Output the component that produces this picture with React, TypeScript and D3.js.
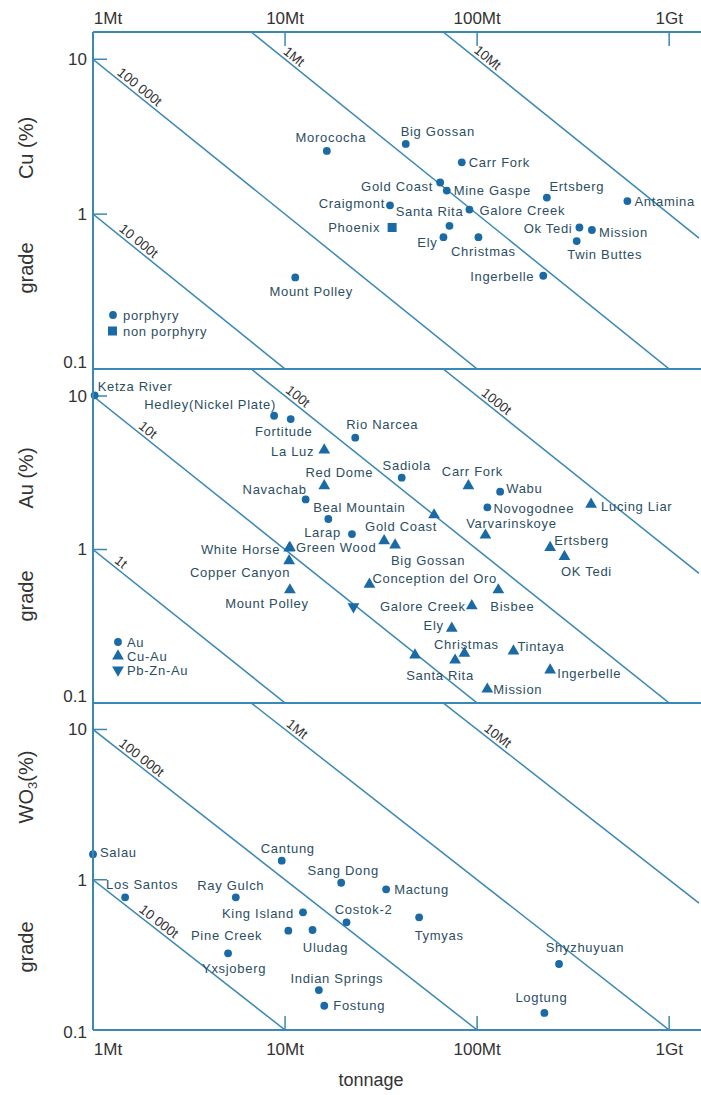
import React, { useRef, useEffect } from 'react';
import * as d3 from 'd3';

const WIDTH = 701;
const HEIGHT = 1095;

// axis ticks
const xTickValues = [1, 10, 100, 1000];
const xTickLabels = ['1Mt', '10Mt', '100Mt', '1Gt'];
const yTickValues = [0.1, 1, 10];
const yTickLabels = ['0.1', '1', '10'];

// [name, tonnage (Mt), grade, type]
const cuDeposits = [
  ['Morococha', 16.5, 2.56, 'porphyry'],
  ['Big Gossan', 42.5, 2.84, 'porphyry'],
  ['Carr Fork', 83.2, 2.16, 'porphyry'],
  ['Gold Coast', 64.2, 1.6, 'porphyry'],
  ['Mine Gaspe', 69.5, 1.42, 'porphyry'],
  ['Craigmont', 35.2, 1.14, 'porphyry'],
  ['Galore Creek', 91.2, 1.07, 'porphyry'],
  ['Santa Rita', 71.8, 0.84, 'porphyry'],
  ['Ely', 66.8, 0.71, 'porphyry'],
  ['Christmas', 101.6, 0.71, 'porphyry'],
  ['Phoenix', 36.1, 0.82, 'non porphyry'],
  ['Ertsberg', 230.7, 1.28, 'porphyry'],
  ['Antamina', 606, 1.215, 'porphyry'],
  ['Ok Tedi', 341, 0.82, 'porphyry'],
  ['Mission', 396, 0.79, 'porphyry'],
  ['Twin Buttes', 330, 0.67, 'porphyry'],
  ['Ingerbelle', 221, 0.4, 'porphyry'],
  ['Mount Polley', 11.3, 0.39, 'porphyry'],
];

const auDeposits = [
  ['Ketza River', 1.02, 10.1, 'Au'],
  ['Hedley(Nickel Plate)', 8.77, 7.44, 'Au'],
  ['Fortitude', 10.7, 7.08, 'Au'],
  ['Rio Narcea', 23.2, 5.35, 'Au'],
  ['La Luz', 16.0, 4.45, 'Cu-Au'],
  ['Red Dome', 16.0, 2.6, 'Cu-Au'],
  ['Navachab', 12.8, 2.12, 'Au'],
  ['Beal Mountain', 16.8, 1.58, 'Au'],
  ['Larap', 22.3, 1.26, 'Au'],
  ['Gold Coast', 32.8, 1.14, 'Cu-Au'],
  ['Big Gossan', 37.4, 1.07, 'Cu-Au'],
  ['White Horse', 10.5, 1.02, 'Cu-Au'],
  ['Green Wood', 10.6, 1.03, 'Cu-Au'],
  ['Copper Canyon', 10.5, 0.845, 'Cu-Au'],
  ['Mount Polley', 10.6, 0.545, 'Cu-Au'],
  ['Sadiola', 40.5, 2.94, 'Au'],
  ['Carr Fork', 90.1, 2.6, 'Cu-Au'],
  ['Wabu', 131.8, 2.38, 'Au'],
  ['Novogodnee', 113.1, 1.88, 'Au'],
  ['Varvarinskoye', 110.5, 1.24, 'Cu-Au'],
  ['Lucing Liar', 392, 1.97, 'Cu-Au'],
  ['', 59.7, 1.68, 'Cu-Au'],
  ['Ertsberg', 240, 1.03, 'Cu-Au'],
  ['OK Tedi', 285, 0.9, 'Cu-Au'],
  ['Conception del Oro', 27.5, 0.593, 'Cu-Au'],
  ['', 22.7, 0.424, 'Pb-Zn-Au'],
  ['Galore Creek', 93.8, 0.43, 'Cu-Au'],
  ['Bisbee', 129, 0.545, 'Cu-Au'],
  ['Ely', 73.8, 0.307, 'Cu-Au'],
  ['Christmas', 85.9, 0.211, 'Cu-Au'],
  ['', 76.8, 0.19, 'Cu-Au'],
  ['Santa Rita', 47.5, 0.205, 'Cu-Au'],
  ['Tintaya', 154.6, 0.218, 'Cu-Au'],
  ['Ingerbelle', 240, 0.164, 'Cu-Au'],
  ['Mission', 113, 0.123, 'Cu-Au'],
];

const wDeposits = [
  ['Salau', 1.0, 1.48, 'W'],
  ['Cantung', 9.61, 1.34, 'W'],
  ['Sang Dong', 19.6, 0.955, 'W'],
  ['Mactung', 33.6, 0.863, 'W'],
  ['Los Santos', 1.47, 0.764, 'W'],
  ['Ray Gulch', 5.54, 0.764, 'W'],
  ['King Island', 12.4, 0.607, 'W'],
  ['Costok-2', 20.9, 0.521, 'W'],
  ['Pine Creek', 10.4, 0.458, 'W'],
  ['Uludag', 13.9, 0.463, 'W'],
  ['Yxsjoberg', 5.05, 0.324, 'W'],
  ['Tymyas', 49.9, 0.562, 'W'],
  ['Shyzhuyuan', 267, 0.275, 'W'],
  ['Indian Springs', 15.0, 0.1845, 'W'],
  ['Fostung', 16.0, 0.145, 'W'],
  ['Logtung', 224, 0.13, 'W'],
];

// metal content lines: [label, tonnage*grade, tonnage where label sits]
const cuLines = [
  ['10 000t', 1, 1.63],
  ['100 000t', 10, 1.65],
  ['1Mt', 100, 10.5],
  ['10Mt', 1000, 107],
];
const auLines = [
  ['1t', 1, 1.32],
  ['10t', 10, 1.82],
  ['100t', 100, 11.0],
  ['1000t', 1000, 119],
];
const wLines = [
  ['10 000t', 1, 2.08],
  ['100 000t', 10, 1.69],
  ['1Mt', 100, 10.9],
  ['10Mt', 1000, 121],
];

// label placement relative to the marker: [dx, dy, anchor]
const cuLabelPos = {
  'Morococha': [4, -13, 'middle'], 'Big Gossan': [32, -12, 'middle'], 'Carr Fork': [7, 0, 'start'],
  'Gold Coast': [-7, 4, 'end'], 'Mine Gaspe': [7, 0, 'start'], 'Craigmont': [-5, -2, 'end'],
  'Santa Rita': [-20, -14, 'middle'], 'Galore Creek': [10, 1, 'start'], 'Phoenix': [-12, 0, 'end'],
  'Ely': [-6, 5, 'end'], 'Christmas': [5, 14, 'middle'], 'Ertsberg': [30, -11, 'middle'],
  'Antamina': [7, 0, 'start'], 'Ok Tedi': [-7, 1, 'end'], 'Mission': [7, 2, 'start'],
  'Twin Buttes': [28, 13, 'middle'], 'Ingerbelle': [-9, 1, 'end'], 'Mount Polley': [16, 14, 'middle'],
};
const auLabelPos = {
  'Ketza River': [3, -9, 'start'], 'Hedley(Nickel Plate)': [-64, -11, 'middle'], 'Fortitude': [-7, 12, 'middle'],
  'Rio Narcea': [27, -13, 'middle'], 'La Luz': [-10, 1, 'end'], 'Red Dome': [15, -13, 'middle'],
  'Navachab': [-31, -10, 'middle'], 'Beal Mountain': [31, -12, 'middle'], 'Larap': [-11, -2, 'end'],
  'Gold Coast': [17, -14, 'middle'], 'Big Gossan': [33, 15, 'middle'], 'White Horse': [-9, 1, 'end'],
  'Green Wood': [6, 0, 'start'], 'Copper Canyon': [-49, 12, 'middle'], 'Mount Polley': [-23, 13, 'middle'],
  'Sadiola': [5, -12, 'middle'], 'Carr Fork': [4, -14, 'middle'], 'Wabu': [6, -3, 'start'],
  'Novogodnee': [6, 1, 'start'], 'Varvarinskoye': [26, -12, 'middle'], 'Lucing Liar': [10, 2, 'start'],
  'Ertsberg': [4, -7, 'start'], 'OK Tedi': [22, 15, 'middle'], 'Conception del Oro': [3, -6, 'start'],
  'Galore Creek': [-6, 1, 'end'], 'Bisbee': [14, 16, 'middle'], 'Ely': [-8, -3, 'end'],
  'Christmas': [2, -9, 'middle'], 'Santa Rita': [25, 20, 'middle'], 'Tintaya': [4, -5, 'start'],
  'Ingerbelle': [7, 3, 'start'], 'Mission': [6, 0, 'start'],
};
const wLabelPos = {
  'Salau': [7, -2, 'start'], 'Cantung': [6, -12, 'middle'], 'Sang Dong': [2, -12, 'middle'],
  'Mactung': [8, 0, 'start'], 'Los Santos': [17, -13, 'middle'], 'Ray Gulch': [-5, -12, 'middle'],
  'King Island': [-9, 1, 'end'], 'Costok-2': [17, -13, 'middle'], 'Pine Creek': [-26, 5, 'end'],
  'Uludag': [13, 17, 'middle'], 'Yxsjoberg': [6, 15, 'middle'], 'Tymyas': [20, 18, 'middle'],
  'Shyzhuyuan': [26, -17, 'middle'], 'Indian Springs': [18, -12, 'middle'], 'Fostung': [9, 0, 'start'],
  'Logtung': [-3, -15, 'middle'],
};

const FONT = '"Liberation Sans", Arial, sans-serif';
const LINE = '#3a88b4';
const DOT = '#1a6aa6';
const LABEL = '#2c4e62';
const AXIS_TEXT = '#333';

function App() {
  const svgRef = useRef(null);

  useEffect(() => {
    const svg = d3.select(svgRef.current);
    svg.selectAll('*').remove();

    const left = 93;
    const right = 701;
    const x = d3.scaleLog().domain([1, 1430]).range([left, 699]);

    const panels = [
      { id: 'cu', top: 32, bottom: 369, deposits: cuDeposits, lines: cuLines, labels: cuLabelPos },
      { id: 'au', top: 369, bottom: 703, deposits: auDeposits, lines: auLines, labels: auLabelPos },
      { id: 'w', top: 703, bottom: 1030, deposits: wDeposits, lines: wLines, labels: wLabelPos },
    ];

    const defs = svg.append('defs');

    const triangle = d3.symbol().type(d3.symbolTriangle).size(60)();

    panels.forEach((p) => {
      const y = d3.scaleLog().domain([0.1, 15]).range([p.bottom, p.top]);

      defs.append('clipPath').attr('id', `clip-${p.id}`)
        .append('rect')
        .attr('x', left).attr('y', p.top)
        .attr('width', right - left).attr('height', p.bottom - p.top);

      const g = svg.append('g');

      // metal content lines
      const lineG = g.append('g').attr('clip-path', `url(#clip-${p.id})`);
      p.lines.forEach(([label, prod, at]) => {
        lineG.append('line')
          .attr('x1', x(1)).attr('y1', y(prod / 1))
          .attr('x2', x(1430)).attr('y2', y(prod / 1430))
          .attr('stroke', LINE).attr('stroke-width', 1.5);

        const x1 = x(at), y1 = y(prod / at);
        const x2 = x(at * 10), y2 = y(prod / at / 10);
        const ang = Math.atan2(y2 - y1, x2 - x1);
        const off = 8;
        const cx = x1 + Math.sin(ang) * off;
        const cy = y1 - Math.cos(ang) * off;
        g.append('text')
          .attr('transform', `translate(${cx},${cy}) rotate(${(ang * 180) / Math.PI})`)
          .attr('text-anchor', 'middle')
          .attr('dy', '0.35em')
          .style('font-family', FONT)
          .style('font-size', '13.5px')
          .attr('fill', AXIS_TEXT)
          .text(label);
      });

      // left ticks (inside)
      yTickValues.forEach((v, i) => {
        g.append('line')
          .attr('x1', left).attr('x2', left + 14)
          .attr('y1', y(v)).attr('y2', y(v))
          .attr('stroke', LINE).attr('stroke-width', 1.5);
        const ty = v === 0.1 ? (p.id === 'w' ? y(v) + 2 : y(v) - 7) : y(v);
        g.append('text')
          .attr('x', 87).attr('y', ty)
          .attr('dy', '0.35em')
          .attr('text-anchor', 'end')
          .style('font-family', FONT)
          .style('font-size', '17px')
          .attr('fill', AXIS_TEXT)
          .text(yTickLabels[i]);
      });

      // points
      const pts = g.append('g');
      p.deposits.forEach(([name, t, gr, type]) => {
        const px = x(t), py = y(gr);
        if (type === 'non porphyry') {
          pts.append('rect').attr('x', px - 4.5).attr('y', py - 4.5)
            .attr('width', 9).attr('height', 9).attr('fill', DOT);
        } else if (type === 'Cu-Au') {
          pts.append('path').attr('d', triangle)
            .attr('transform', `translate(${px},${py})`).attr('fill', DOT);
        } else if (type === 'Pb-Zn-Au') {
          pts.append('path').attr('d', triangle)
            .attr('transform', `translate(${px},${py}) rotate(180)`).attr('fill', DOT);
        } else {
          pts.append('circle').attr('cx', px).attr('cy', py).attr('r', 3.9).attr('fill', DOT);
        }
        const lp = p.labels[name];
        if (name && lp) {
          pts.append('text')
            .attr('x', px + lp[0]).attr('y', py + lp[1])
            .attr('dy', '0.35em')
            .attr('text-anchor', lp[2])
            .style('font-family', FONT)
            .style('font-size', '13px')
            .style('letter-spacing', '0.7px')
            .attr('fill', LABEL)
            .text(name);
        }
      });

      // bottom border of panel
      g.append('line')
        .attr('x1', left).attr('x2', right)
        .attr('y1', p.bottom).attr('y2', p.bottom)
        .attr('stroke', LINE).attr('stroke-width', 2);
    });

    // frame: top border and left axis
    svg.append('line')
      .attr('x1', left).attr('x2', right).attr('y1', 32).attr('y2', 32)
      .attr('stroke', LINE).attr('stroke-width', 2);
    svg.append('line')
      .attr('x1', left).attr('x2', left).attr('y1', 32).attr('y2', 1030)
      .attr('stroke', LINE).attr('stroke-width', 2);

    // x ticks top and bottom
    xTickValues.forEach((v, i) => {
      if (i > 0) {
        svg.append('line').attr('x1', x(v)).attr('x2', x(v)).attr('y1', 32).attr('y2', 46)
          .attr('stroke', LINE).attr('stroke-width', 1.5);
        svg.append('line').attr('x1', x(v)).attr('x2', x(v)).attr('y1', 1030).attr('y2', 1016)
          .attr('stroke', LINE).attr('stroke-width', 1.5);
      }
      const lx = i === 0 ? x(v) + 15 : x(v);
      [18, 1049].forEach((ty) => {
        svg.append('text')
          .attr('x', lx).attr('y', ty).attr('dy', '0.35em')
          .attr('text-anchor', 'middle')
          .style('font-family', FONT).style('font-size', '17px')
          .attr('fill', AXIS_TEXT)
          .text(xTickLabels[i]);
      });
    });

    // legends
    const leg = svg.append('g')
      .style('font-family', FONT).style('font-size', '13px').style('letter-spacing', '0.7px');
    leg.append('circle').attr('cx', 113).attr('cy', 315).attr('r', 3.9).attr('fill', DOT);
    leg.append('text').attr('x', 123).attr('y', 315).attr('dy', '0.35em').attr('fill', LABEL).text('porphyry');
    leg.append('rect').attr('x', 108).attr('y', 326.5).attr('width', 9).attr('height', 9).attr('fill', DOT);
    leg.append('text').attr('x', 123).attr('y', 331).attr('dy', '0.35em').attr('fill', LABEL).text('non porphyry');

    leg.append('circle').attr('cx', 118).attr('cy', 642).attr('r', 3.9).attr('fill', DOT);
    leg.append('text').attr('x', 127).attr('y', 642).attr('dy', '0.35em').attr('fill', LABEL).text('Au');
    leg.append('path').attr('d', triangle).attr('transform', 'translate(118,656)').attr('fill', DOT);
    leg.append('text').attr('x', 127).attr('y', 656).attr('dy', '0.35em').attr('fill', LABEL).text('Cu-Au');
    leg.append('path').attr('d', triangle).attr('transform', 'translate(118,670) rotate(180)').attr('fill', DOT);
    leg.append('text').attr('x', 127).attr('y', 670).attr('dy', '0.35em').attr('fill', LABEL).text('Pb-Zn-Au');

    // axis titles
    const yTitles = [
      ['grade', 'Cu (%)', 268, 148],
      ['grade', 'Au (%)', 596, 478],
      ['grade', 'WO', 947, 787],
    ];
    yTitles.forEach(([a, b, ya, yb], i) => {
      svg.append('text')
        .attr('transform', `translate(33,${ya}) rotate(-90)`)
        .attr('text-anchor', 'middle')
        .style('font-family', FONT).style('font-size', '20px')
        .attr('fill', AXIS_TEXT)
        .text(a);
      const t = svg.append('text')
        .attr('transform', `translate(33,${yb}) rotate(-90)`)
        .attr('text-anchor', 'middle')
        .style('font-family', FONT).style('font-size', '20px')
        .attr('fill', AXIS_TEXT);
      if (i === 2) {
        t.append('tspan').text('WO');
        t.append('tspan').attr('dy', 4).style('font-size', '13px').text('3');
        t.append('tspan').attr('dy', -4).text('(%)');
      } else {
        t.text(b);
      }
    });

    svg.append('text')
      .attr('x', 371).attr('y', 1080).attr('dy', '0.35em')
      .attr('text-anchor', 'middle')
      .style('font-family', FONT).style('font-size', '18px')
      .attr('fill', AXIS_TEXT)
      .text('tonnage');
  }, []);

  return (
    <svg
      ref={svgRef}
      width={WIDTH}
      height={HEIGHT}
      style={{ position: 'absolute', left: 0, top: 0, background: '#fff' }}
    />
  );
}

export default App;
